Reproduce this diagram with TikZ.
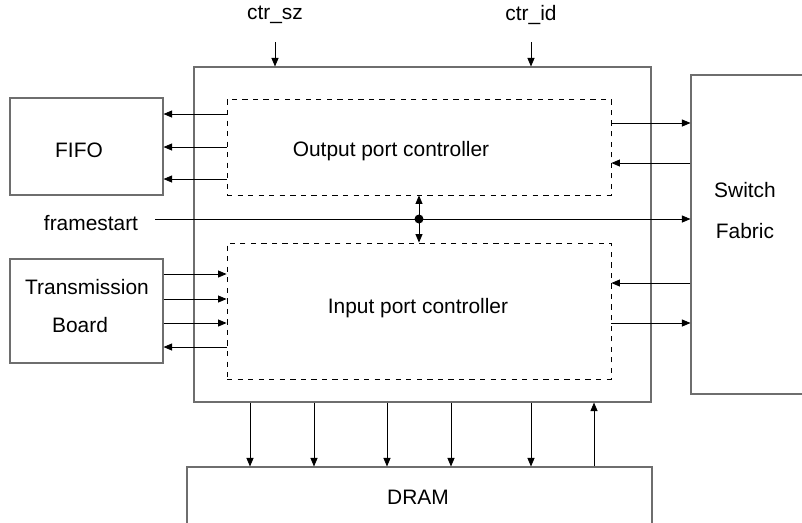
\documentclass[tikz,border=0pt]{standalone}
\usepackage{fontspec}
\setmainfont{Liberation Sans}
\usetikzlibrary{arrows.meta,fit}
\definecolor{boxgray}{RGB}{110,110,110}

\begin{document}
\begin{tikzpicture}
	[x=0.02cm,y=-0.02cm,font=\fontsize{11.9}{14}\selectfont,
	 box/.style={draw=boxgray,line width=0.6pt,inner sep=0pt},
	 ctlbox/.style={draw,dashed,line width=0.5pt,inner sep=0pt},
	 arr/.style={line width=0.5pt,-{Triangle[length=1.7mm,width=1.4mm]}},
	 txt/.style={inner sep=0pt,anchor=center}]
\clip (0,0) rectangle (802,522);
% blocks
\node[box,fit={(194,67) (651,402)}] (main) {};
\node[ctlbox,fit={(227,99) (611,195)}] (outctl) {};
\node[ctlbox,fit={(227,243) (611,379)}] (inctl) {};
\node[box,fit={(10,98) (163,195)}] (fifo) {};
\node[box,fit={(10,259) (163,363)}] (tb) {};
\node[box,fit={(691,75) (830,394)}] (sf) {};
\node[box,fit={(187,467) (652,560)}] (dram) {};
% texts
\node[txt] (outtxt) at (391,151) {Output port controller};
\node[txt] (intxt) at (418,308) {Input port controller};
\node[txt] (fifotxt) at (79,150) {FIFO};
\node[txt] (tbtxt1) at (87,287) {Transmission};
\node[txt] (tbtxt2) at (80,325) {Board};
\node[txt] (sftxt1) at (745,190) {Switch};
\node[txt] (sftxt2) at (745,231) {Fabric};
\node[txt] (dramtxt) at (418,497) {DRAM};
\node[txt] (fs) at (91,223) {framestart};
\node[txt] (sz) at (275,15) {ctr\_sz};
\node[txt] (id) at (531,15) {ctr\_id};
% control inputs
\draw[arr] (275,42) -- (main.north -| sz);
\draw[arr] (531,42) -- (main.north -| id);
% output port controller <-> FIFO
\foreach \y in {114,147,179}
\draw[arr] (outctl.west |- 0,\y) -- (fifo.east |- 0,\y);
% transmission board <-> input port controller
\foreach \y in {274,299,323}
\draw[arr] (tb.east |- 0,\y) -- (inctl.west |- 0,\y);
\draw[arr] (inctl.west |- 0,347) -- (tb.east |- 0,347);
% switch fabric
\draw[arr] (outctl.east |- 0,123) -- (sf.west |- 0,123);
\draw[arr] (sf.west |- 0,163) -- (outctl.east |- 0,163);
\draw[arr] (sf.west |- 0,283) -- (inctl.east |- 0,283);
\draw[arr] (inctl.east |- 0,323) -- (sf.west |- 0,323);
% framestart
\coordinate (fsstart) at (155,219);
\coordinate (dot) at (419,219);
\draw[arr] (fsstart) -- (sf.west |- fsstart);
\fill (dot) circle (4.5);
\draw[arr] (dot) -- (outctl.south -| dot);
\draw[arr] (dot) -- (inctl.north -| dot);
% DRAM
\foreach \x in {250,314,387,451,531}
\draw[arr] (main.south -| \x,0) -- (dram.north -| \x,0);
\draw[arr] (dram.north -| 594,0) -- (main.south -| 594,0);
\end{tikzpicture}
\end{document}
